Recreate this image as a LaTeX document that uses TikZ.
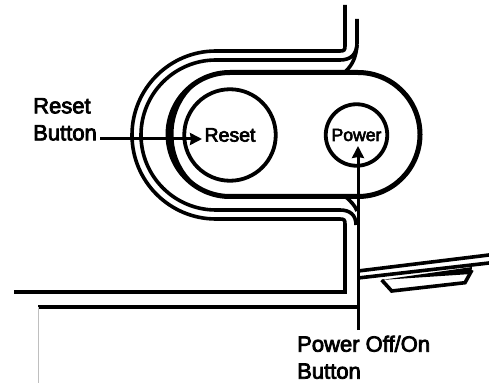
\documentclass[tikz,border=0pt]{standalone}
\usepackage{fontspec}
\setmainfont[FakeBold=3.5]{Liberation Sans}
\usetikzlibrary{arrows.meta}
\tikzset{
    body/.style={line width=3.6pt},
    rim/.style={line width=5pt},
    callout/.style={anchor=north west, inner sep=0pt, align=left, font=\fontsize{22}{27}\selectfont},
    button/.style={draw, circle, line width=3.8pt, inner sep=0pt},
    pointer/.style={line width=3pt, -{Stealth[inset=1pt,length=12pt,width=12pt]}}
}
\begin{document}
\begin{tikzpicture}[x=1pt, y=1pt]
    \useasboundingbox (0,0) rectangle (489,383);
    % housing outlines
    \draw[body] (345,378)--(345,337) .. controls (345,333) and (344,332) .. (340,332)--(216,332) arc (90:270:84)--(340,164) .. controls (344,164) and (345,163) .. (345,159)--(345,91)--(14,91);
    \draw[body] (357,364)--(357,340) .. controls (357,328) and (350,323) .. (340,323)--(216,323) arc (90:270:75)--(340,173) .. controls (350,173) and (356,168) .. (356,158);
    \draw[body] (357,338) .. controls (356,325) and (352,318) .. (346,312);
    \draw[body] (346,186) .. controls (350,182) and (355,178) .. (357,172);
    \draw[body] (38,76)--(358,76);
    \draw[gray!50, line width=0.7pt] (38,76)--(38,0);
    % panel recess
    \draw[rim] (230,310.5)--(358,310.5) arc (90:-90:62)--(230,186.5) arc (270:90:62);
    \fill (230,310.5) arc (90:270:62) arc [start angle=270, end angle=90, x radius=56.5, y radius=62];
    % lid on the right
    \draw[body] (358,112)--(489,128);
    \draw[body] (358,105)--(489,120);
    \draw[body] (381.7,103)--(391.7,92)--(465,100.3)--(472,113);
    \fill (381,103)--(472,116)--(471,109)--cycle;
    % buttons
    \node[button, minimum size=91.5pt, font=\fontsize{19.5}{22}\selectfont] (reset) at (230,248) {Reset};
    \node[button, minimum size=61.5pt, font=\fontsize{17.6}{20}\selectfont] (power) at (356.5,248) {Power};
    % callouts
    \node[callout] (resetlabel) at (33,285) {Reset\\Button};
    \node[callout] (powerlabel) at (297,47.5) {Power Off/On\\Button};
    \coordinate (resettail) at (100,244);
    \coordinate (resettip) at (202,244);
    \coordinate (powertail) at (358,53);
    \coordinate (powertip) at (358,237);
    \draw[pointer] (resettail)--(resettip);
    \draw[pointer] (powertail)--(powertip);
\end{tikzpicture}
\end{document}
